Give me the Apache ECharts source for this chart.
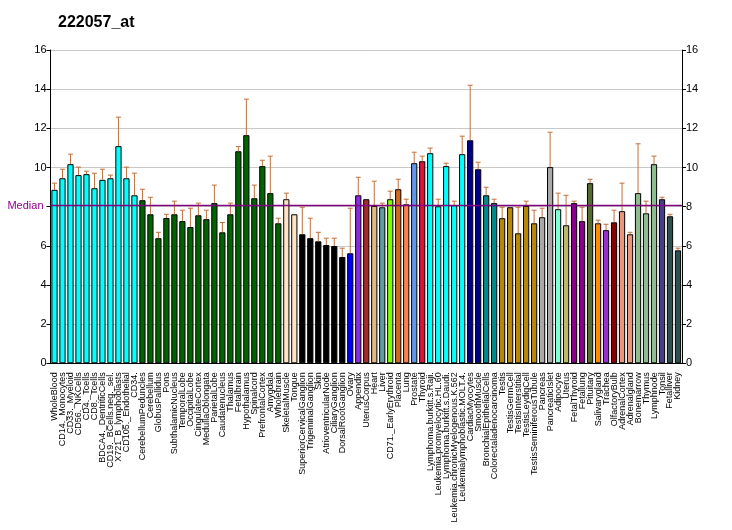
<!DOCTYPE html>
<html>
<head>
<meta charset="utf-8">
<script src="https://cdn.jsdelivr.net/npm/echarts@6/dist/echarts.min.js"></script>
<style>html,body{margin:0;padding:0;background:#fff}#c{width:732px;height:530px}</style>
</head>
<body>
<div id="c"></div>
<script>
const categories = ["WholeBlood","CD14._Monocytes","CD33._Myeloid","CD56._NKCells","CD4._Tcells","CD8._Tcells","BDCA4._DentriticCells","CD19._BCells.neg._sel.","X721_B_lymphoblasts","CD105._Endothelial","CD34.","CerebellumPeduncles","Cerebellum","GlobusPallidus","Pons","SubthalamicNucleus","TemporalLobe","OccipitalLobe","CingulateCortex","MedullaOblongata","ParietalLobe","Caudatenucleus","Thalamus","Fetalbrain","Hypothalamus","Spinalcord","PrefrontalCortex","Amygdala","Wholebrain","SkeletalMuscle","Tongue","SuperiorCervicalGanglion","TrigeminalGanglion","Skin","AtrioventricularNode","CiliaryGanglion","DorsalRootGanglion","Ovary","Appendix","UterusCorpus","Heart","Liver","CD71._EarlyErythroid","Placenta","Lung","Prostate","Thyroid","Lymphoma.burkitt.s.Raji.","Leukemia.promyelocytic.HL.60","Lymphoma.burkitt.s.Daudi.","Leukemia.chronicMyelogenous.K.562","Leukemialymphoblastic.MOLT.4.","CardiacMyocytes","SmoothMuscle","BronchialEpithelialCells","Colorectaladenocarcinoma","Testis","TestisGermCell","TestisInterstitial","TestisLeydigCell","TestisSeminiferousTubule","Pancreas","PancreaticIslet","Adipocyte","Uterus","FetalThyroid","Fetallung","Pituitary","Salivarygland","Trachea","OlfactoryBulb","AdrenalCortex","Adrenalgland","Bonemarrow","Thymus","Lymphnode","Tonsil","Fetalliver","Kidney"];
const values = [8.86,9.45,10.17,9.61,9.66,8.94,9.37,9.45,11.09,9.45,8.58,8.33,7.61,6.39,7.42,7.61,7.26,6.96,7.56,7.36,8.18,6.69,7.61,10.83,11.65,8.43,10.07,8.69,7.15,8.38,7.61,6.59,6.39,6.23,6.04,5.99,5.43,5.62,8.58,8.38,8.04,7.97,8.38,8.89,8.12,10.22,10.32,10.73,8.02,10.07,8.07,10.68,11.39,9.91,8.58,8.18,7.41,7.97,6.64,8.04,7.15,7.46,10.02,7.87,7.05,8.18,7.26,9.20,7.15,6.80,7.20,7.77,6.59,8.69,7.66,10.17,8.38,7.51,5.77];
const errorTops = [9.20,9.91,10.68,10.02,9.81,9.71,9.91,9.61,12.57,10.02,9.71,8.89,8.48,6.69,7.61,8.28,7.82,7.92,8.18,7.82,9.10,7.19,8.18,11.07,13.49,9.10,10.37,10.58,7.41,8.69,7.61,7.97,7.41,6.69,6.39,6.39,5.88,7.92,9.50,8.38,9.30,8.18,8.79,9.40,8.38,10.78,10.58,10.99,8.38,10.22,8.28,11.60,14.20,10.27,8.99,8.38,7.97,7.97,7.97,8.28,7.82,7.92,11.80,8.69,8.58,8.28,7.97,9.40,7.31,7.10,7.82,9.20,6.69,11.21,8.28,10.58,8.48,7.61,5.88];
const barColors = ["#00FFFF","#00FFFF","#00FFFF","#00FFFF","#00FFFF","#00FFFF","#00FFFF","#00FFFF","#00FFFF","#00FFFF","#00FFFF",
"#006400","#006400","#006400","#006400","#006400","#006400","#006400","#006400","#006400","#006400","#006400","#006400","#006400","#006400","#006400","#006400","#006400","#006400",
"#FFE4C4","#FFE4C4","#000000","#000000","#000000","#000000","#000000","#000000",
"#0000FF","#8A2BE2","#A52A2A","#DEB887","#5F9EA0","#7FFF00","#D2691E","#FF7F50","#6495ED","#DC143C",
"#00FFFF","#00FFFF","#00FFFF","#00FFFF","#00FFFF","#00008B","#00008B","#008B8B","#008B8B",
"#B8860B","#B8860B","#B8860B","#B8860B","#B8860B","#A9A9A9","#A9A9A9","#7FFFD4","#BDB76B","#8B008B","#8B008B","#556B2F","#FF8C00","#9932CC","#8B0000","#E9967A","#E9967A","#8FBC8F","#8FBC8F","#8FBC8F","#483D8B","#2F4F4F","#2F4F4F"];
const yTicks = [0,2,4,6,8,10,12,14,16];
const medianValue = 8.05;

const chart = echarts.init(document.getElementById('c'), null, {renderer:'canvas'});
const font = "'Liberation Sans', Arial, sans-serif";
const yAxisCommon = {
  type:'value', min:yTicks[0], max:yTicks[yTicks.length-1], interval:2,
  axisLine:{show:true,lineStyle:{color:'#000',width:1}},
  axisTick:{show:true,length:4,lineStyle:{color:'#000'}},
  axisLabel:{color:'#000',fontSize:11,fontFamily:font,margin:4}
};
chart.setOption({
  animation:false,
  backgroundColor:'#fff',
  title:{text:'222057_at',left:53,top:10,textStyle:{fontSize:16,fontWeight:'bold',fontFamily:font,color:'#000'}},
  grid:{left:50.5,right:50,top:50,bottom:166.7,containLabel:false,outerBoundsMode:'none'},
  xAxis:{type:'category',data:categories,
    axisLine:{lineStyle:{color:'#000'}},
    axisTick:{alignWithLabel:true,length:5,lineStyle:{color:'#000'}},
    axisLabel:{rotate:90,interval:0,fontSize:9,fontFamily:font,color:'#000',margin:9}},
  yAxis:[Object.assign({},yAxisCommon,{position:'left',
           axisLabel:Object.assign({},yAxisCommon.axisLabel,{formatter:function(v){return v===8?'':String(v);}}),
           splitLine:{show:true,lineStyle:{color:'#C8C8C8',width:1}}}),
         Object.assign({},yAxisCommon,{position:'right',splitLine:{show:false}})],
  series:[
    {type:'bar',barCategoryGap:'22%',
     data:values.map((v,i)=>({value:v,itemStyle:{color:barColors[i]}})),
     itemStyle:{borderColor:'#000',borderWidth:1},
     markLine:{silent:true,symbol:'none',
       lineStyle:{color:'#800080',width:1.3,type:'solid'},
       label:{show:true,position:'start',formatter:'Median',color:'#8B008B',fontSize:11,fontFamily:font,distance:7},
       data:[{yAxis:medianValue}]},
     z:2},
    {type:'custom',z:3,
     data:values.map((v,i)=>[i,v,errorTops[i]]),
     renderItem:function(params,api){
       const i=api.value(0), v=api.value(1), e=api.value(2);
       if(e<=v) return null;
       const p1=api.coord([i,v]), p2=api.coord([i,e]);
       const st={stroke:'#C0703C',lineWidth:1};
       return {type:'group',children:[
         {type:'line',shape:{x1:p1[0],y1:p1[1],x2:p2[0],y2:p2[1]},style:st},
         {type:'line',shape:{x1:p2[0]-2.5,y1:p2[1],x2:p2[0]+2.5,y2:p2[1]},style:st}
       ]};
     }}
  ]
});
</script>
</body>
</html>
